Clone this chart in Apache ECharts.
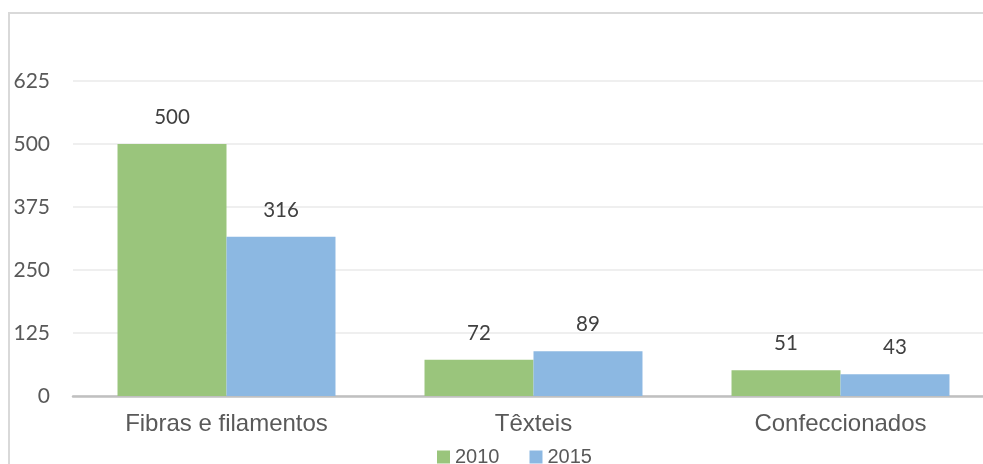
<!DOCTYPE html>
<html>
<head>
<meta charset="utf-8">
<script src="https://cdn.jsdelivr.net/npm/echarts@6/dist/echarts.min.js"></script>
<style>html,body{margin:0;padding:0;background:#fff}#c{width:983px;height:464px}</style>
</head>
<body>
<div id="c"></div>
<script>
const categories = ['Fibras e filamentos', 'Têxteis', 'Confeccionados'];
const seriesNames = ['2010', '2015'];
const values2010 = [500, 72, 51];
const values2015 = [316, 89, 43];
const yTicks = [0, 125, 250, 375, 500, 625];

const chart = echarts.init(document.getElementById('c'), null, {renderer: 'canvas'});
const labelStyle = {show: true, position: 'top', distance: 16, color: '#404040', fontFamily: 'Lato', fontSize: 20.5};
chart.setOption({
  animation: false,
  graphic: [{
    type: 'rect', shape: {x: 9, y: 13, width: 1000, height: 480},
    style: {fill: 'none', stroke: '#d9d9d9', lineWidth: 2}, silent: true
  }],
  grid: {left: 73, right: -11, top: 81, bottom: 68, containLabel: false, outerBoundsMode: 'none'},
  legend: {
    data: seriesNames, left: 432, top: 442, itemWidth: 13, itemHeight: 13, itemGap: 30,
    icon: 'rect',
    textStyle: {fontFamily: 'Liberation Sans', fontSize: 20, color: '#595959'}
  },
  xAxis: {
    type: 'category', data: categories,
    axisLine: {lineStyle: {color: '#c0c0c0', width: 2.5}},
    axisTick: {show: false},
    axisLabel: {fontFamily: 'Liberation Sans', fontSize: 24, color: '#595959', margin: 16}
  },
  yAxis: {
    type: 'value', min: yTicks[0], max: yTicks[yTicks.length - 1], interval: 125,
    axisLine: {show: false}, axisTick: {show: false},
    splitLine: {lineStyle: {color: '#efefef', width: 2}},
    axisLabel: {fontFamily: 'Lato', fontSize: 21, color: '#595959', margin: 23}
  },
  series: [
    {name: seriesNames[0], type: 'bar', data: values2010, barGap: '0%', barCategoryGap: '29%',
     itemStyle: {color: '#9ac57c'}, label: labelStyle},
    {name: seriesNames[1], type: 'bar', data: values2015, barGap: '0%', barCategoryGap: '29%',
     itemStyle: {color: '#8cb8e2'}, label: labelStyle}
  ]
});
</script>
</body>
</html>
